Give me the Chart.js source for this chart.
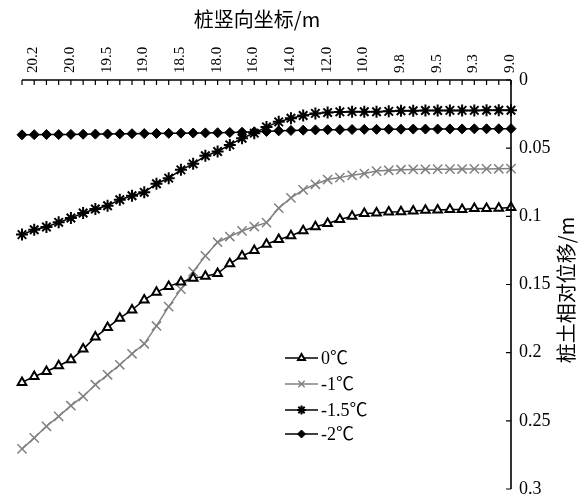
<!DOCTYPE html>
<html><head><meta charset="utf-8">
<script src="https://cdn.jsdelivr.net/npm/chart.js"></script>
<style>html,body{margin:0;padding:0;background:#fff;}#wrap{width:584px;height:498px;}</style>
</head><body><div id="wrap"><canvas id="c" width="584" height="498"></canvas></div>
<script>
const categories = ['', '20.2', '', '', '20.0', '', '', '19.5', '', '', '19.0', '', '', '18.5', '', '', '18.0', '', '', '16.0', '', '', '14.0', '', '', '12.0', '', '', '10.0', '', '', '9.8', '', '', '9.5', '', '', '9.3', '', '', '9.0'];
const seriesNames = ['0\u2103', '-1\u2103', '-1.5\u2103', '-2\u2103'];
const xTitle = '桩竖向坐标/m';
const yTitle = '桩土相对位移/m';
const yMin = 0, yMax = 0.3, yStep = 0.05;

const s0 = [0.2218, 0.2175, 0.2138, 0.2096, 0.2052, 0.1974, 0.1886, 0.1816, 0.1747, 0.1687,
  0.1613, 0.1556, 0.1514, 0.1482, 0.1455, 0.1440, 0.1420, 0.1348, 0.1291, 0.1250,
  0.1205, 0.1170, 0.1142, 0.1106, 0.1077, 0.1052, 0.1023, 0.0999, 0.0979, 0.0975,
  0.0968, 0.0966, 0.0960, 0.0956, 0.0954, 0.0950, 0.0949, 0.0943, 0.0942, 0.0941, 0.0935];
const s1 = [0.2706, 0.2625, 0.2540, 0.2467, 0.2389, 0.2321, 0.2235, 0.2162, 0.2089, 0.2008,
  0.1935, 0.1804, 0.1662, 0.1534, 0.1406, 0.1290, 0.1190, 0.1148, 0.1107, 0.1075,
  0.1046, 0.0940, 0.0865, 0.0806, 0.0765, 0.0730, 0.0716, 0.0699, 0.0686, 0.0668,
  0.0662, 0.0658, 0.0656, 0.0655, 0.0654, 0.0654, 0.0653, 0.0652, 0.0652, 0.0651, 0.0650];
const s15 = [0.1134, 0.1098, 0.1078, 0.1044, 0.1012, 0.0976, 0.0946, 0.0922, 0.0878, 0.0849,
  0.0824, 0.0761, 0.0720, 0.0659, 0.0615, 0.0556, 0.0524, 0.0476, 0.0427, 0.0390,
  0.0344, 0.0307, 0.0280, 0.0260, 0.0245, 0.0239, 0.0234, 0.0232, 0.0233, 0.0233,
  0.0230, 0.0226, 0.0225, 0.0224, 0.0224, 0.0223, 0.0223, 0.0223, 0.0222, 0.0222, 0.0222];
const s2 = [0.0402, 0.0401, 0.0400, 0.0400, 0.0399, 0.0398, 0.0397, 0.0396, 0.0395, 0.0394,
  0.0393, 0.0392, 0.0391, 0.0390, 0.0389, 0.0388, 0.0387, 0.0385, 0.0383, 0.0380,
  0.0377, 0.0373, 0.0370, 0.0368, 0.0366, 0.0365, 0.0364, 0.0363, 0.0362, 0.0362,
  0.0361, 0.0361, 0.0360, 0.0360, 0.0360, 0.0359, 0.0359, 0.0358, 0.0358, 0.0358, 0.0357];

const numFont = "'Liberation Serif', 'Noto Sans CJK SC', serif";
const cjkFont = "'Noto Sans CJK SC', 'Liberation Serif', serif";
const legendRadius = [4, 4.5, 4.5, 4];

const deco = {
  id: 'deco',
  afterDraw(chart) {
    const {ctx, chartArea: a, scales: {x, y}} = chart;
    ctx.save();
    ctx.strokeStyle = '#000';
    ctx.lineWidth = 1.6;
    ctx.beginPath();
    ctx.moveTo(a.left, a.top); ctx.lineTo(a.right, a.top);
    ctx.moveTo(a.right, a.top); ctx.lineTo(a.right, a.bottom);
    ctx.stroke();
    ctx.lineWidth = 1.2;
    ctx.beginPath();
    for (let i = 0; i < categories.length; i++) {
      const px = x.getPixelForValue(i);
      ctx.moveTo(px, a.top);
      ctx.lineTo(px, a.top + 5);
    }
    y.ticks.forEach(t => {
      const py = y.getPixelForValue(t.value);
      ctx.moveTo(a.right - 5, py);
      ctx.lineTo(a.right, py);
    });
    ctx.stroke();

    ctx.fillStyle = '#000';
    ctx.font = '20px ' + cjkFont;
    ctx.textAlign = 'center';
    ctx.textBaseline = 'middle';
    ctx.fillText(xTitle, 257, 19);
    ctx.save();
    ctx.translate(566, 290);
    ctx.rotate(-Math.PI / 2);
    ctx.fillText(yTitle, 0, 0);
    ctx.restore();

    const lx0 = 285, lx1 = 318, ly = [358, 384, 410, 434];
    chart.data.datasets.forEach((ds, i) => {
      const yy = ly[i];
      ctx.strokeStyle = ds.borderColor;
      ctx.lineWidth = ds.borderWidth;
      ctx.beginPath();
      ctx.moveTo(lx0, yy); ctx.lineTo(lx1, yy);
      ctx.stroke();
      ctx.fillStyle = ds.pointBackgroundColor;
      ctx.strokeStyle = ds.pointBorderColor;
      ctx.lineWidth = ds.pointBorderWidth;
      Chart.helpers.drawPoint(ctx, {pointStyle: ds.pointStyle, radius: legendRadius[i], rotation: 0, borderWidth: ds.pointBorderWidth}, (lx0 + lx1) / 2, yy);
      ctx.fillStyle = '#000';
      ctx.font = '18px ' + numFont;
      ctx.textAlign = 'left';
      ctx.fillText(ds.label, 321, yy + 1);
    });
    ctx.restore();
  }
};

new Chart(document.getElementById('c'), {
  type: 'line',
  data: {
    labels: categories,
    datasets: [
      {label: seriesNames[0], data: s0, borderColor: '#000', borderWidth: 1.5, pointStyle: 'triangle', pointRadius: 5, pointBackgroundColor: '#fff', pointBorderColor: '#000', pointBorderWidth: 2},
      {label: seriesNames[1], data: s1, borderColor: '#808080', borderWidth: 1.5, pointStyle: 'crossRot', pointRadius: 6.5, pointBackgroundColor: '#808080', pointBorderColor: '#808080', pointBorderWidth: 1.5},
      {label: seriesNames[2], data: s15, borderColor: '#000', borderWidth: 1.5, pointStyle: 'star', pointRadius: 6, pointBackgroundColor: '#000', pointBorderColor: '#000', pointBorderWidth: 2},
      {label: seriesNames[3], data: s2, borderColor: '#000', borderWidth: 1.5, pointStyle: 'rectRot', pointRadius: 5, pointBackgroundColor: '#000', pointBorderColor: '#000', pointBorderWidth: 1}
    ]
  },
  options: {
    responsive: false,
    animation: false,
    devicePixelRatio: 1,
    layout: {padding: {left: 22, right: 0, top: 0, bottom: 9}},
    plugins: {legend: {display: false}, tooltip: {enabled: false}},
    elements: {line: {tension: 0}},
    scales: {
      x: {
        type: 'category',
        position: 'top',
        offset: false,
        grid: {display: false, drawTicks: false},
        border: {display: false},
        ticks: {
          autoSkip: false, maxRotation: 90, minRotation: 90, padding: 7, labelOffset: 17,
          color: '#000', font: {family: numFont, size: 15},
          callback: (v, i) => categories[i]
        },
        afterFit: s => { s.height = 80; s.paddingLeft = 0; s.paddingRight = 0; }
      },
      y: {
        position: 'right',
        reverse: true,
        min: yMin, max: yMax,
        grid: {display: false, drawTicks: false},
        border: {display: false},
        ticks: {
          stepSize: yStep, padding: 8, color: '#000', font: {family: numFont, size: 18},
          callback: v => String(parseFloat(Number(v).toFixed(2)))
        },
        afterFit: s => { s.width = 73; s.paddingTop = 0; s.paddingBottom = 0; }
      }
    }
  },
  plugins: [deco]
});
</script></body></html>
